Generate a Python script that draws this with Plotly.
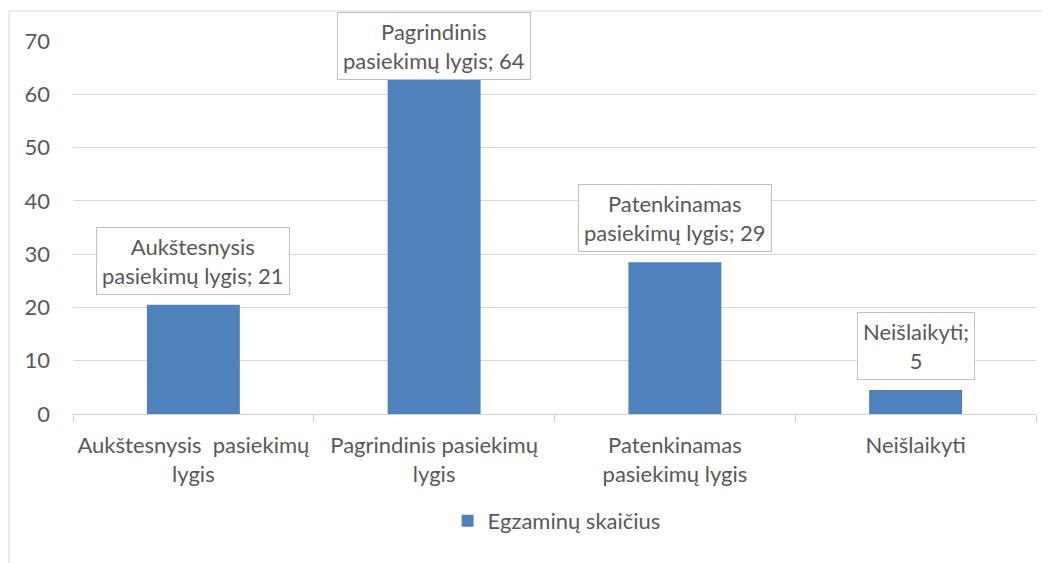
import plotly.graph_objects as go

categories = ["Aukštesnysis  pasiekimų<br>lygis", "Pagrindinis pasiekimų<br>lygis",
              "Patenkinamas<br>pasiekimų lygis", "Neišlaikyti"]
label_names = ["Aukštesnysis<br>pasiekimų lygis", "Pagrindinis<br>pasiekimų lygis",
               "Patenkinamas<br>pasiekimų lygis", "Neišlaikyti;<br>"]
values = [20.5, 64.0, 28.5, 4.5]
label_values = [21, 64, 29, 5]
series_name = "Egzaminų skaičius"
y_ticks = [0, 10, 20, 30, 40, 50, 60, 70]

FONT = "Lato"
FS = 22
TXT = "#595959"
GRID = "#d9d9d9"

fig = go.Figure()
fig.add_trace(go.Bar(x=categories, y=values, name=series_name,
                     marker=dict(color="#4f81bd", line=dict(width=0)),
                     showlegend=True))

YMAX = 70
for c, n, v, lv in zip(categories, label_names, values, label_values):
    if n.endswith("<br>"):
        txt = n + f"{lv}"
    else:
        txt = n + f"; {lv}"
    ann = dict(x=c, text=txt, showarrow=False, xref="x", yref="y",
               font=dict(family=FONT, size=FS, color=TXT),
               bgcolor="white", bordercolor="#bfbfbf", borderwidth=1, borderpad=5)
    if v > 58:
        ann.update(y=YMAX, yanchor="top", yshift=29)
    else:
        ann.update(y=v, yanchor="bottom", yshift=10)
    fig.add_annotation(**ann)

# chart area border
fig.add_shape(type="rect", xref="paper", yref="paper",
              x0=-0.0665, x1=1.2, y0=-0.6, y1=1.0804,
              line=dict(color=GRID, width=1), fillcolor="rgba(0,0,0,0)", layer="below")

fig.update_layout(
    width=1051, height=563,
    margin=dict(l=65, r=23, t=33, b=157, autoexpand=False),
    paper_bgcolor="white", plot_bgcolor="white",
    bargap=0.614,
    font=dict(family=FONT, size=FS, color=TXT),
    legend=dict(orientation="h", x=0.389, xanchor="left", y=-0.287, yanchor="middle",
                font=dict(family=FONT, size=FS, color=TXT)),
    xaxis=dict(showgrid=False, showline=True, linecolor="#d0d0d0", linewidth=1,
               ticks="outside", tickson="boundaries", ticklen=7, tickcolor="#d0d0d0",
               ticklabelstandoff=12, tickangle=0, automargin=False,
               tickfont=dict(family=FONT, size=FS, color=TXT)),
    yaxis=dict(range=[0, YMAX], tickvals=y_ticks, showgrid=True, gridcolor=GRID,
               gridwidth=1, zeroline=False, showline=False, ticks="",
               ticklabelstandoff=22, automargin=False,
               tickfont=dict(family=FONT, size=FS, color=TXT)),
)

fig.write_html("out.html")
